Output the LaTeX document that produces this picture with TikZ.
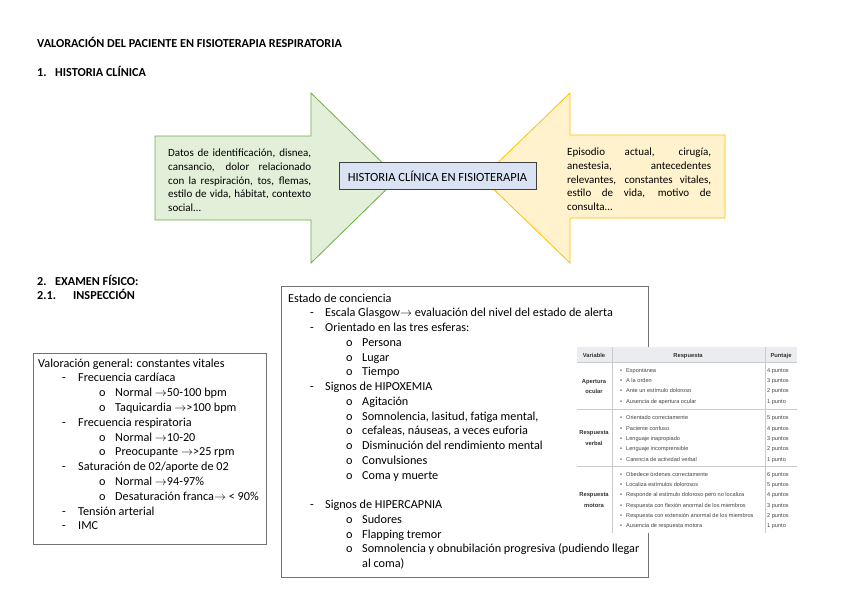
\documentclass[tikz,border=0pt]{standalone}
\usepackage{fontspec}
\setmainfont{Carlito}
\newfontfamily\wikifont{Liberation Sans}
\definecolor{grfill}{HTML}{E2EFD9}
\definecolor{grline}{HTML}{70AD47}
\definecolor{yefill}{HTML}{FFF2CC}
\definecolor{yeline}{HTML}{FFC000}
\definecolor{bxfill}{HTML}{DAE3F3}
\definecolor{tbline}{HTML}{C8CCD1}
\definecolor{tbhead}{HTML}{EAECF0}
\definecolor{tbtext}{HTML}{444444}
\begin{document}
\begin{tikzpicture}[x=1pt,y=-1pt,
  txt/.style={anchor=base west, inner sep=0pt, font=\fontsize{12.2}{14}\selectfont},
  hd/.style={anchor=base west, inner sep=0pt, font=\fontsize{12.2}{14}\selectfont\bfseries},
  para/.style={anchor=north west, inner sep=0pt, text width=#1, align=justify,
    font=\fontsize{11}{13.6}\selectfont,
    execute at begin node={\hyphenpenalty=10000 \exhyphenpenalty=10000 }},
  listbox/.style={draw=black!55, line width=1pt},
  tb/.style={anchor=base west, inner sep=0pt, font=\wikifont\fontsize{5.6}{6}\selectfont, text=tbtext},
  tbh/.style={anchor=base, inner sep=0pt, font=\wikifont\fontsize{5.8}{6}\selectfont\bfseries, text=black!80},
  tbc/.style={anchor=base, inner sep=0pt, font=\wikifont\fontsize{5.8}{6}\selectfont\bfseries, text=black!80}
]
\useasboundingbox (0,0) rectangle (848,599);

% Titles
\node[hd, name=t0] at (37,48) {VALORACIÓN DEL PACIENTE EN FISIOTERAPIA RESPIRATORIA};
\node[hd, name=t1n] at (37,77) {1.};
\node[hd, name=t1] at (55,77) {HISTORIA CLÍNICA};
\node[hd, name=t2n] at (37,285) {2.};
\node[hd, name=t2] at (55,285) {EXAMEN FÍSICO:};
\node[hd, name=t3n] at (37,299) {2.1.};
\node[hd, name=t3] at (73,299) {INSPECCIÓN};

% Arrows
\draw[grline, fill=grfill, line width=0.8pt] (155,136) -- (311,136) -- (311,93) -- (398,178) -- (311,263) -- (311,220) -- (155,220) -- cycle;
\draw[yeline, fill=yefill, line width=0.8pt] (725,135) -- (570,135) -- (570,93) -- (482,178) -- (570,263) -- (570,218) -- (725,218) -- cycle;

\node[para=143pt, name=gtext] at (168,149) {Datos de identificación, disnea,\linebreak cansancio, dolor relacionado\linebreak con la respiración, tos, flemas,\linebreak estilo de vida, hábitat, contexto\linebreak social…};
\node[para=144pt, name=ytext] at (567,148) {Episodio actual, cirugía,\linebreak anestesia, antecedentes\linebreak relevantes, constantes vitales,\linebreak estilo de vida, motivo de\linebreak consulta…};

\node[draw=black!75, fill=bxfill, line width=1pt, minimum width=197pt, minimum height=27pt, inner sep=0pt, font=\fontsize{12.5}{14}\selectfont, name=center] at (437.5,176) {HISTORIA CLÍNICA EN FISIOTERAPIA};

% Left box
\draw[listbox] (33,353) rectangle (266,544);
\foreach \x/\y/\t [count=\i] in {
  38/367/{Valoración general: constantes vitales},
  62/381.8/{-}, 78/381.8/{Frecuencia cardíaca},
  99/396.6/{o}, 115/396.6/{Normal \ensuremath{\rightarrow}50-100 bpm},
  99/411.4/{o}, 115/411.4/{Taquicardia \ensuremath{\rightarrow}>100 bpm},
  62/426.2/{-}, 78/426.2/{Frecuencia respiratoria},
  99/441/{o}, 115/441/{Normal \ensuremath{\rightarrow}10-20},
  99/455.8/{o}, 115/455.8/{Preocupante \ensuremath{\rightarrow}>25 rpm},
  62/470.6/{-}, 78/470.6/{Saturación de 02/aporte de 02},
  99/485.4/{o}, 115/485.4/{Normal \ensuremath{\rightarrow}94-97\%},
  99/500.2/{o}, 115/500.2/{Desaturación franca\ensuremath{\rightarrow} < 90\%},
  62/515/{-}, 78/515/{Tensión arterial},
  62/529.8/{-}, 78/529.8/{IMC}}
  \node[txt, name=lb\i] at (\x,\y) {\t};

% Right box
\draw[listbox] (281,286) rectangle (648,577);
\foreach \x/\y/\t [count=\i] in {
  288/302/{Estado de conciencia},
  310/316.75/{-}, 325/316.75/{Escala Glasgow\ensuremath{\rightarrow} evaluación del nivel del estado de alerta},
  310/331.5/{-}, 325/331.5/{Orientado en las tres esferas:},
  346/346.25/{o}, 362/346.25/{Persona},
  346/361/{o}, 362/361/{Lugar},
  346/375.75/{o}, 362/375.75/{Tiempo},
  310/390.5/{-}, 325/390.5/{Signos de HIPOXEMIA},
  346/405.25/{o}, 362/405.25/{Agitación},
  346/420/{o}, 362/420/{Somnolencia, lasitud, fatiga mental,},
  346/434.75/{o}, 362/434.75/{cefaleas, náuseas, a veces euforia},
  346/449.5/{o}, 362/449.5/{Disminución del rendimiento mental},
  346/464.25/{o}, 362/464.25/{Convulsiones},
  346/479/{o}, 362/479/{Coma y muerte},
  310/508.5/{-}, 325/508.5/{Signos de HIPERCAPNIA},
  346/523.25/{o}, 362/523.25/{Sudores},
  346/538/{o}, 362/538/{Flapping tremor},
  346/552.75/{o}, 362/552.75/{Somnolencia y obnubilación progresiva (pudiendo llegar},
  362/567.5/{al coma)}}
  \node[txt, name=rb\i] at (\x,\y) {\t};

% Glasgow table
\fill[white] (577,347) rectangle (797,533);
\fill[tbhead] (577,347) rectangle (797,362);
\draw[tbline, line width=0.4pt] (577,362) -- (797,362) (577,409) -- (797,409) (577,466) -- (797,466);
\draw[tbline, line width=0.4pt] (612,347) -- (612,533) (765,347) -- (765,533);
\node[tbh, name=h1] at (594,357) {Variable};
\node[tbh, name=h2] at (688,357) {Respuesta};
\node[tbh, name=h3] at (781,357) {Puntaje};
\node[tbc, name=v1a] at (594,383) {Apertura};
\node[tbc, name=v1b] at (594,393) {ocular};
\node[tbc, name=v2a] at (594,434) {Respuesta};
\node[tbc, name=v2b] at (594,445) {verbal};
\node[tbc, name=v3a] at (594,496) {Respuesta};
\node[tbc, name=v3b] at (594,507) {motora};
\foreach \y/\t/\p [count=\i] in {
  372/{Espontánea}/{4 puntos},
  382/{A la orden}/{3 puntos},
  392/{Ante un estímulo doloroso}/{2 puntos},
  403/{Ausencia de apertura ocular}/{1 punto},
  419/{Orientado correctamente}/{5 puntos},
  430/{Paciente confuso}/{4 puntos},
  440/{Lenguaje inapropiado}/{3 puntos},
  450/{Lenguaje incomprensible}/{2 puntos},
  461/{Carencia de actividad verbal}/{1 punto},
  476/{Obedece órdenes correctamente}/{6 puntos},
  486/{Localiza estímulos dolorosos}/{5 puntos},
  496/{Responde al estímulo doloroso pero no localiza}/{4 puntos},
  507/{Respuesta con flexión anormal de los miembros}/{3 puntos},
  517/{Respuesta con extensión anormal de los miembros}/{2 puntos},
  527/{Ausencia de respuesta motora}/{1 punto}}
  {
  \node[tb, name=bu\i] at (620,\y) {•};
  \node[tb, name=it\i] at (626,\y) {\t};
  \node[tb, name=pt\i] at (767,\y) {\p};
  }
\end{tikzpicture}
\end{document}
